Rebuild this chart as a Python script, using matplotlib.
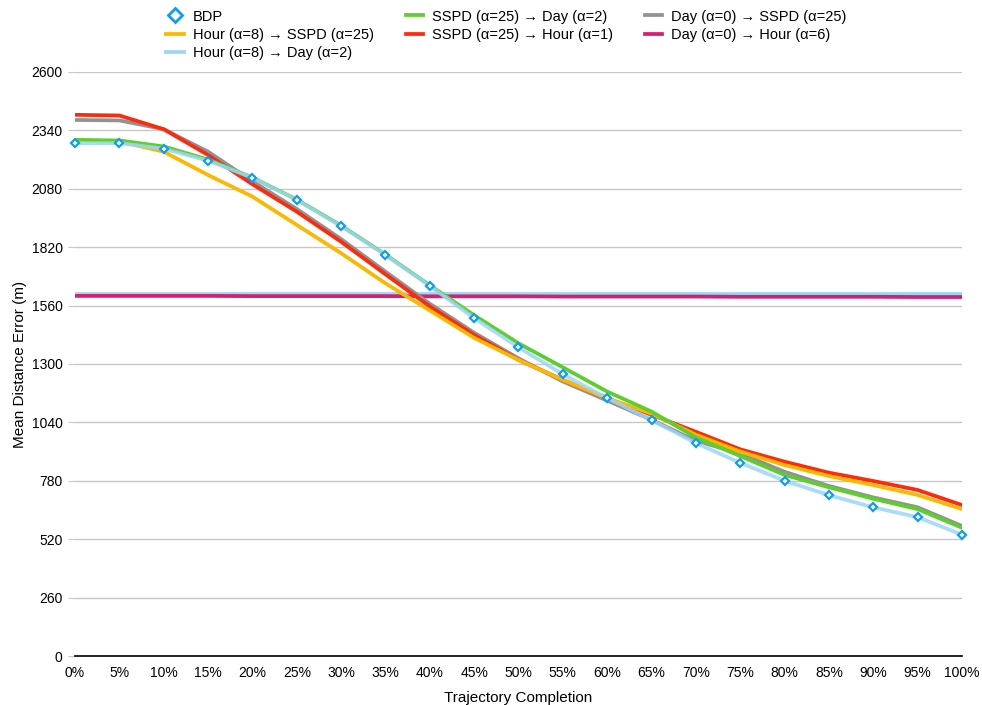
"""Mean distance error along trajectory completion for several transfer setups."""

import matplotlib.pyplot as plt
from matplotlib.lines import Line2D

plt.rcParams["font.family"] = ["Liberation Sans", "DejaVu Sans"]

completion = [0, 5, 10, 15, 20, 25, 30, 35, 40, 45, 50,
              55, 60, 65, 70, 75, 80, 85, 90, 95, 100]

bdp = [2283, 2283, 2258, 2205, 2129, 2030, 1913, 1785, 1647, 1504, 1374,
       1254, 1148, 1050, 948, 860, 780, 716, 662, 618, 540]
hour_sspd = [2297, 2290, 2245, 2141, 2045, 1919, 1793, 1659, 1538, 1416, 1318,
             1229, 1147, 1079, 985, 910, 850, 801, 761, 717, 654]
hour_day = [1612, 1612, 1612, 1612, 1612, 1612, 1612, 1612, 1612, 1612, 1612,
            1612, 1612, 1612, 1612, 1612, 1612, 1612, 1612, 1612, 1612]
sspd_day = [2297, 2295, 2268, 2210, 2130, 2032, 1916, 1787, 1650, 1517, 1392,
            1285, 1177, 1088, 973, 890, 806, 751, 700, 654, 571]
sspd_hour = [2409, 2406, 2345, 2230, 2100, 1978, 1844, 1699, 1556, 1429, 1318,
             1229, 1147, 1074, 998, 920, 865, 816, 779, 739, 672]
day_sspd = [2386, 2384, 2345, 2245, 2113, 1990, 1856, 1711, 1568, 1439, 1325,
            1222, 1137, 1051, 958, 902, 820, 757, 706, 662, 579]
day_hour = [1603, 1603, 1603, 1603, 1602, 1602, 1602, 1602, 1601, 1601, 1601,
            1600, 1600, 1600, 1600, 1599, 1599, 1599, 1599, 1598, 1598]

y_ticks = [0, 260, 520, 780, 1040, 1300, 1560, 1820, 2080, 2340, 2600]

fig = plt.figure(figsize=(9.82, 7.05), dpi=100)
ax = fig.add_axes([0.0764, 0.0695, 0.9032, 0.8285])

lw = 2.7
ax.plot(completion, hour_day, color="#9ad6f8", lw=lw, label="Hour (α=8) → Day (α=2)")
ax.plot(completion, day_hour, color="#d3206f", lw=lw, label="Day (α=0) → Hour (α=6)")
ax.plot(completion, day_sspd, color="#929292", lw=lw, label="Day (α=0) → SSPD (α=25)")
ax.plot(completion, sspd_hour, color="#fe2a0e", lw=lw, label="SSPD (α=25) → Hour (α=1)")
ax.plot(completion, hour_sspd, color="#fcb800", lw=lw, label="Hour (α=8) → SSPD (α=25)")
ax.plot(completion, sspd_day, color="#5ccf2c", lw=lw, label="SSPD (α=25) → Day (α=2)")
ax.plot(completion, bdp, color="#9ad6f8", lw=lw, alpha=0.85)
ax.plot(completion, bdp, ls="none", marker="D", ms=4.5, mfc="white",
        mec="#0f9cf5", mew=1.6, clip_on=False)

ax.set_xlim(0, 100)
ax.set_ylim(0, 2600)
ax.set_xticks(completion)
ax.set_xticklabels([f"{c}%" for c in completion])
ax.set_yticks(y_ticks)
ax.tick_params(axis="x", length=0, labelsize=10, pad=7)
ax.tick_params(axis="y", length=5, color="#c8c8c8", labelsize=10, pad=4)
ax.grid(axis="y", color="#c8c8c8", lw=1)
ax.set_axisbelow(True)
for side in ["left", "right", "top"]:
    ax.spines[side].set_visible(False)
ax.spines["bottom"].set_color("black")
ax.spines["bottom"].set_linewidth(1.2)

ax.set_xlabel("Trajectory Completion", fontsize=11, labelpad=8)
ax.set_ylabel("Mean Distance Error (m)", fontsize=11, labelpad=3)

handles = {h.get_label(): h for h in ax.get_lines()}
bdp_handle = Line2D([], [], ls="none", marker="D", ms=7, mfc="white",
                    mec="#0f9cf5", mew=2)
order = ["Hour (α=8) → SSPD (α=25)", "Hour (α=8) → Day (α=2)",
         "SSPD (α=25) → Day (α=2)", "SSPD (α=25) → Hour (α=1)",
         "Day (α=0) → SSPD (α=25)", "Day (α=0) → Hour (α=6)"]
fig.legend([bdp_handle] + [handles[k] for k in order], ["BDP"] + order,
           loc="upper left", bbox_to_anchor=(0.156, 1.005), ncol=3,
           frameon=False, fontsize=10.5, handlelength=1.2, handletextpad=0.6,
           columnspacing=2.2, labelspacing=0.3)

fig.savefig("out.png", dpi=100)
